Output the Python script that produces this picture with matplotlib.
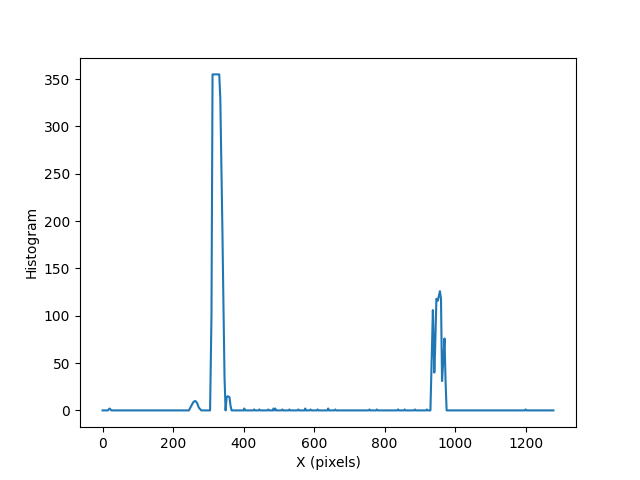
import matplotlib
matplotlib.use("Agg")
import matplotlib.pyplot as plt

# Histogram of lane pixels along x (key points only)
x_points = [0, 15, 20, 25, 30, 245, 252, 258, 263, 268, 273, 280, 305, 309, 312,
            331, 334, 337, 340, 343, 346, 349, 352, 355, 360, 363, 366, 370,
            400, 402, 404, 428, 430, 432, 443, 445, 447, 468, 470, 472,
            483, 485, 487, 490, 492, 508, 510, 512, 528, 530, 532,
            553, 555, 557, 573, 575, 577, 588, 590, 592, 608, 610, 612,
            638, 640, 642, 658, 660, 662,
            755, 757, 759, 776, 778, 780, 836, 838, 840, 855, 857, 859,
            884, 886, 888, 918, 920, 922, 930, 934, 937, 941, 943, 947,
            951, 957, 960, 963, 966, 970, 973, 976,
            1198, 1200, 1202, 1279]
y_points = [0, 0, 2, 0, 0, 0, 5, 9, 10, 8, 3, 0, 0, 100, 355,
            355, 330, 260, 190, 110, 35, 0, 14, 15, 14, 5, 0, 0,
            0, 2, 0, 0, 1, 0, 0, 1, 0, 0, 1, 0,
            0, 2, 0, 2, 0, 0, 1, 0, 0, 1, 0,
            0, 1, 0, 0, 2, 0, 0, 1, 0, 0, 1, 0,
            0, 2, 0, 0, 1, 0,
            0, 1, 0, 0, 1, 0, 0, 1, 0, 0, 1, 0,
            0, 1, 0, 0, 1, 0, 0, 60, 106, 40, 60, 118,
            116, 126, 118, 31, 50, 76, 30, 0,
            0, 1, 0, 0]

plt.figure()
plt.plot(x_points, y_points)
plt.xlabel("X (pixels)")
plt.ylabel("Histogram")
plt.savefig("out.png", dpi=100)
